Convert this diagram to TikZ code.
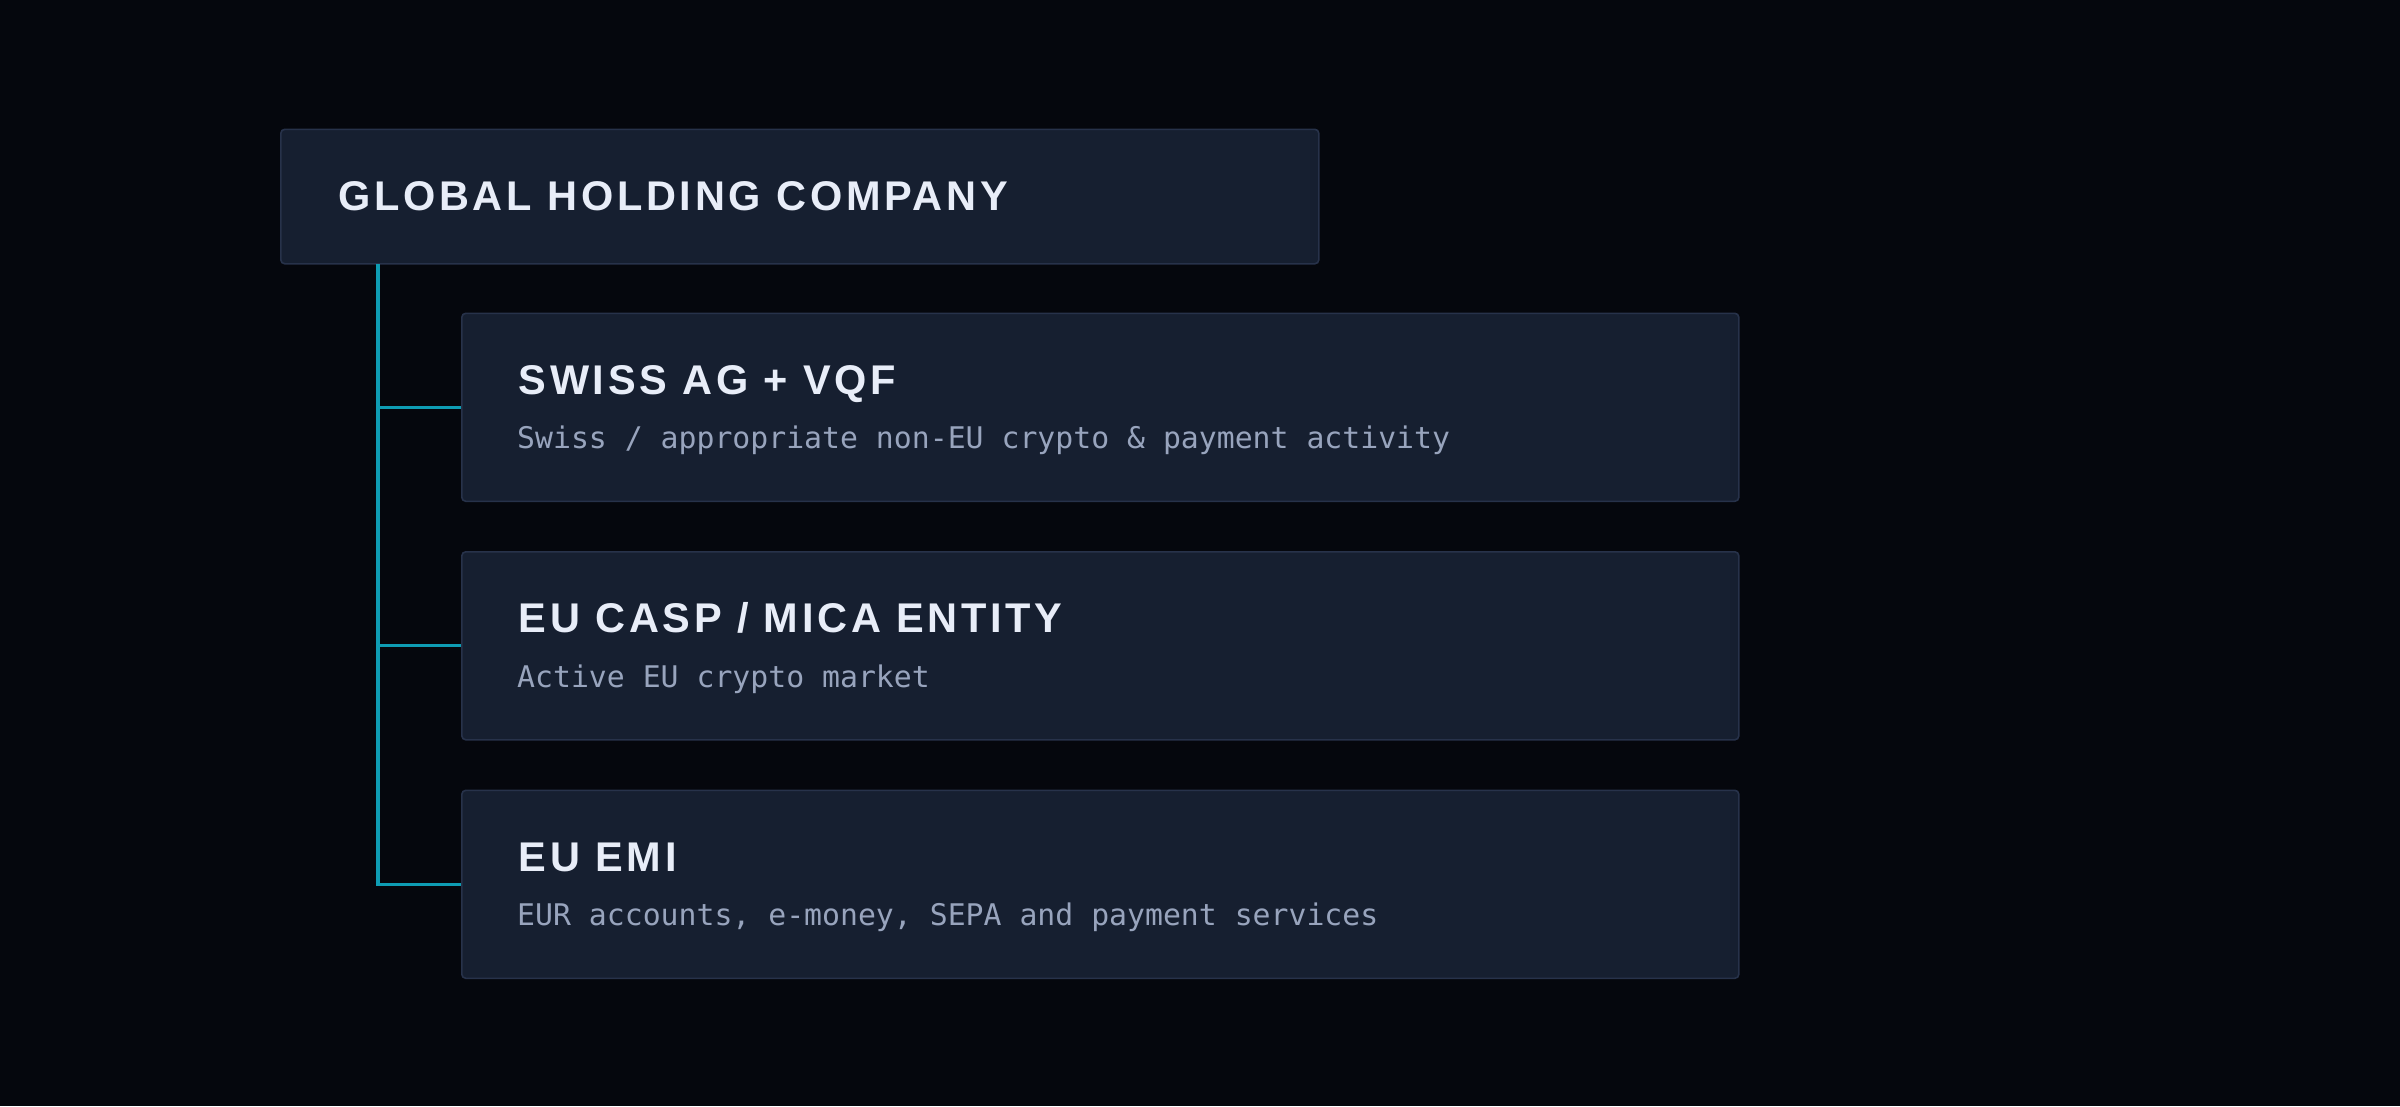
\documentclass[tikz,border=0pt]{standalone}
\usepackage{fontspec}
\setmainfont{Liberation Sans}
\newfontfamily\titlefont[LetterSpace=9]{Liberation Sans}
\newfontfamily\subfont{DejaVu Sans Mono}
\definecolor{bg}{HTML}{05070D}
\definecolor{boxfill}{HTML}{161F30}
\definecolor{boxline}{HTML}{27324A}
\definecolor{titlecol}{HTML}{E8EDF8}
\definecolor{subcol}{HTML}{98A4BD}
\definecolor{conncol}{HTML}{0E9CB3}
\tikzset{
  box/.style={draw=boxline, line width=1.6pt, fill=boxfill, rounded corners=4pt, anchor=north west, inner sep=0pt},
  ttl/.style={anchor=base west, inner sep=0pt, text=titlecol, font=\titlefont\bfseries\fontsize{41.5}{42}\selectfont},
  sub/.style={anchor=base west, inner sep=0pt, text=subcol, font=\subfont\fontsize{29.8}{30}\selectfont},
  conn/.style={draw=conncol, line width=3.2pt, line join=miter}
}
\begin{document}
\begin{tikzpicture}[x=1pt,y=-1pt]
\fill[bg] (0,0) rectangle (2400,1106);
\useasboundingbox (0,0) rectangle (2400,1106);
\node[box, minimum width=1038pt, minimum height=134.5pt] (top) at (280,128.5) {};
\node[box, minimum width=1277pt, minimum height=188pt] (c1) at (461,312.5) {};
\node[box, minimum width=1277pt, minimum height=188pt] (c2) at (461,551) {};
\node[box, minimum width=1277pt, minimum height=188pt] (c3) at (461,789.5) {};
\node[ttl] (ttop) at (338,210) {GLOBAL HOLDING COMPANY};
\node[ttl] (t1) at (518.5,394.3) {SWISS AG + VQF};
\node[sub] (s1) at (517,448.5) {Swiss / appropriate non-EU crypto \& payment activity};
\node[ttl] (t2) at (518.5,632.8) {EU CASP / MICA ENTITY};
\node[sub] (s2) at (517,687) {Active EU crypto market};
\node[ttl] (t3) at (518.5,871.3) {EU EMI};
\node[sub] (s3) at (517,925.5) {EUR accounts, e-money, SEPA and payment services};
\coordinate (trunk) at (378,263.8);
\draw[conn] (trunk) |- (c3.west);
\draw[conn] (trunk |- c1.west) -- (c1.west);
\draw[conn] (trunk |- c2.west) -- (c2.west);
\end{tikzpicture}
\end{document}
